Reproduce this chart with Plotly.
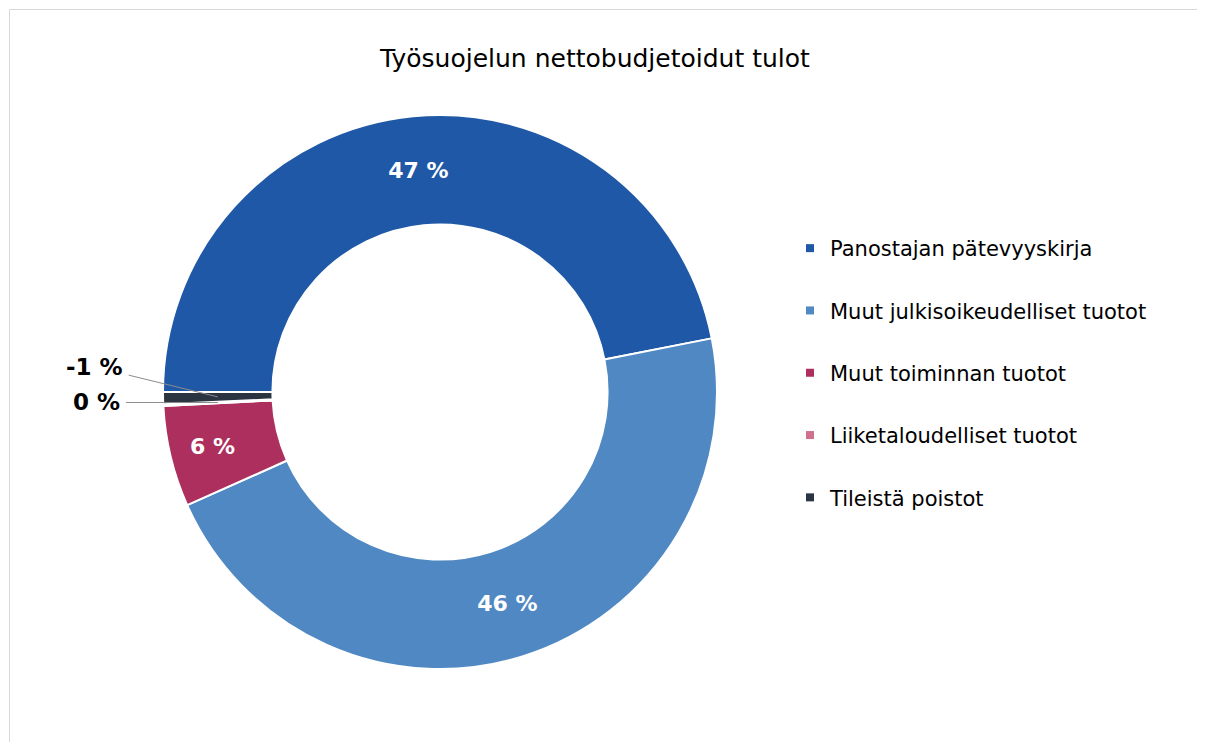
import math
import plotly.graph_objects as go

# ---- data ----
categories = [
    "Panostajan pätevyyskirja",
    "Muut julkisoikeudelliset tuotot",
    "Muut toiminnan tuotot",
    "Liiketaloudelliset tuotot",
    "Tileistä poistot",
]
shares = [46.9, 46.4, 5.9, 0.1, -0.7]   # percent
colors = ["#1F58A6", "#4F88C2", "#AC2F5E", "#D0708F", "#2B3441"]
title_text = "Työsuojelun nettobudjetoidut tulot"

# page body has an 8px margin, so the figure is 8px smaller and shifted
OFF = 8
W, H = 1205 - OFF, 742 - OFF
FONT = "DejaVu Sans"

sizes = [abs(v) for v in shares]
labels_txt = [f"{round(v):.0f} %" for v in shares]
inside = [abs(v) >= 2 for v in shares]

# pie geometry (figure pixels)
cx, cy, R = 440 - OFF, 392 - OFF, 277
hole = 0.605
dom_x = [(cx - R) / W, (cx + R) / W]
dom_y = [1 - (cy + R) / H, 1 - (cy - R) / H]
rotation = 270  # first slice starts at 9 o'clock, clockwise

fig = go.Figure()
fig.add_trace(go.Pie(
    labels=categories,
    values=sizes,
    text=labels_txt,
    texttemplate=[("%{text}" if i else "") for i in inside],
    textinfo="text",
    textposition=["inside" if i else "none" for i in inside],
    insidetextorientation="horizontal",
    insidetextfont=dict(family=FONT, size=22, color="white", weight="bold"),
    marker=dict(colors=colors, line=dict(color="white", width=2)),
    hole=hole,
    sort=False,
    direction="clockwise",
    rotation=rotation,
    domain=dict(x=dom_x, y=dom_y),
    showlegend=False,
    hoverinfo="label+text",
))

# legend entries
for name, col in zip(categories, colors):
    fig.add_trace(go.Scatter(
        x=[None], y=[None], mode="markers", name=name,
        legendgroup=name,
        marker=dict(symbol="square", size=8, color=col),
        hoverinfo="skip",
    ))

# outside labels for tiny slices, computed from slice mid-angles
total = sum(sizes)
cum = 0.0
annotations = []
offsets = {3: (-121, 0), 4: (-123, -30)}
for i, s in enumerate(sizes):
    mid = cum + s / 2
    cum += s
    if inside[i]:
        continue
    theta = math.radians(rotation + mid / total * 360)
    rmid = R * (1 + hole) / 2
    px = cx + rmid * math.sin(theta)
    py = cy - rmid * math.cos(theta)
    ax, ay = offsets[i]
    annotations.append(dict(
        x=px / W, y=1 - py / H, xref="paper", yref="paper",
        text=labels_txt[i], showarrow=True, arrowhead=0, arrowwidth=1,
        arrowcolor="#8C8C8C", ax=ax, ay=ay, startstandoff=4,
        font=dict(family=FONT, size=23, color="black", weight="bold"),
    ))

fig.update_layout(
    width=W, height=H,
    margin=dict(l=0, r=0, t=0, b=0),
    paper_bgcolor="white", plot_bgcolor="white",
    font=dict(family=FONT, color="black"),
    title=dict(text=title_text, x=(595 - OFF) / W, xanchor="center",
               y=1 - (58 - OFF) / H, yanchor="middle",
               font=dict(family=FONT, size=25, color="black")),
    xaxis=dict(visible=False), yaxis=dict(visible=False),
    legend=dict(x=(790 - OFF) / W, y=1 - (228 - OFF) / H,
                xanchor="left", yanchor="top",
                font=dict(family=FONT, size=21, color="black"),
                tracegroupgap=32, itemwidth=30,
                bgcolor="rgba(0,0,0,0)"),
    annotations=annotations,
    shapes=[dict(type="rect", xref="paper", yref="paper",
                 x0=(9.5 - OFF) / W, y0=-0.02, x1=1.02, y1=1 - (9.5 - OFF) / H,
                 line=dict(color="#D9D9D9", width=1), fillcolor="rgba(0,0,0,0)",
                 layer="below")],
)

fig.write_html("out.html", config={"displayModeBar": False})
